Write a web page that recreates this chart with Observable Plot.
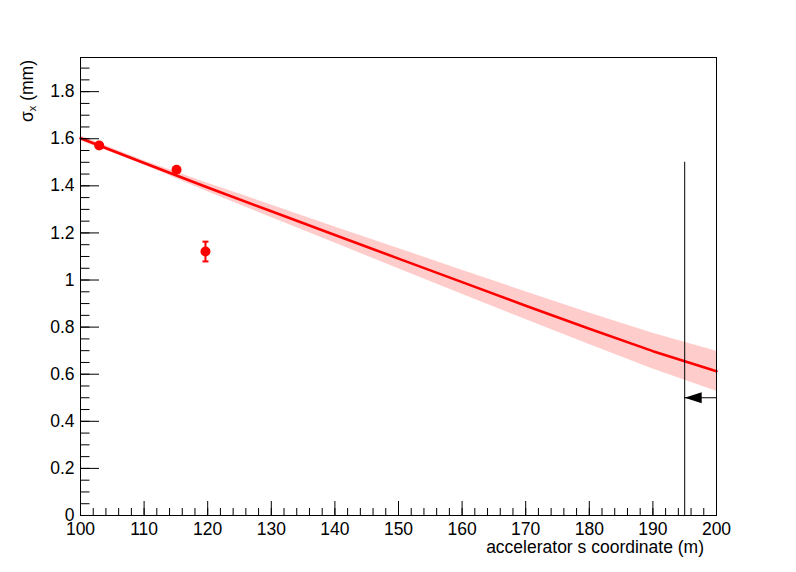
<!DOCTYPE html>
<html><head><meta charset="utf-8">
<script src="https://cdn.jsdelivr.net/npm/d3@7"></script>
<script src="https://cdn.jsdelivr.net/npm/@observablehq/plot@0.6"></script>
<style>html,body{margin:0;padding:0;background:#fff}svg{display:block}</style>
</head><body><div id="chart"></div>
<script>
// Measured points
const pointS = [102.94, 115.1, 119.65];
const pointSigma = [1.571, 1.468, 1.121];
const pointErr = [0.008, 0.008, 0.042];
// Fit curve and its confidence band (half-width)
const fitS = [100, 110, 120, 130, 140, 150, 160, 170, 180, 190, 200];
const fitSigma = [1.602, 1.497, 1.393, 1.292, 1.191, 1.091, 0.991, 0.891, 0.793, 0.698, 0.613];
const bandHalf = [0.011, 0.009, 0.018, 0.027, 0.034, 0.043, 0.051, 0.059, 0.067, 0.076, 0.085];
// Marker line + arrow
const markerS = [195];
const markerTop = [1.5];
const arrowSigma = [0.5];
const arrowEnd = [200];
// Axes
const xTicks = [100, 110, 120, 130, 140, 150, 160, 170, 180, 190, 200];
const xTickLabels = ["100", "110", "120", "130", "140", "150", "160", "170", "180", "190", "200"];
const yTicks = [0, 0.2, 0.4, 0.6, 0.8, 1.0, 1.2, 1.4, 1.6, 1.8];
const yTickLabels = ["0", "0.2", "0.4", "0.6", "0.8", "1", "1.2", "1.4", "1.6", "1.8"];
const xMinor = d3.range(100, 200.001, 2);
const yMinor = d3.range(0, 1.94, 0.05);
const xTitle = "accelerator s coordinate (m)";
const yTitleMain = "σ";
const yTitleSub = "x";
const yTitleUnit = " (mm)";

const W = 796, H = 572, mL = 80, mR = 80, mT = 57, mB = 57;
const innerW = W - mL - mR, innerH = H - mT - mB;

const points = pointS.map((s, i) => ({s, v: pointSigma[i], e: pointErr[i]}));
const fit = fitS.map((s, i) => ({s, v: fitSigma[i], h: bandHalf[i]}));
const marker = markerS.map((s, i) => ({s, top: markerTop[i], ay: arrowSigma[i], end: arrowEnd[i]}));

const capSymbol = {draw(ctx, size) { const r = Math.sqrt(size / Math.PI); ctx.moveTo(-r, 0); ctx.lineTo(r, 0); }};
const headShape = {draw(ctx, l, r) { ctx.moveTo(0, -l); ctx.lineTo(-r, 0); ctx.lineTo(r, 0); ctx.closePath(); }};

const font = "'Liberation Sans', Arial, Helvetica, sans-serif";
const fs = 17.5;

const chart = Plot.plot({
  width: W, height: H,
  marginLeft: mL, marginRight: mR, marginTop: mT, marginBottom: mB,
  x: {domain: [100, 200]},
  y: {domain: [0, 1.945]},
  style: {fontFamily: font, fontSize: fs + "px", background: "white", color: "black"},
  marks: [
    Plot.areaY(fit, {x: "s", y1: d => d.v - d.h, y2: d => d.v + d.h, fill: "#ffcccc"}),
    Plot.line(fit, {x: "s", y: "v", stroke: "#ff0000", strokeWidth: 2.6}),
    Plot.ruleX(points, {x: "s", y1: d => d.v - d.e, y2: d => d.v + d.e, stroke: "#ff0000", strokeWidth: 2}),
    Plot.dot(points, {x: "s", y: d => d.v - d.e, symbol: capSymbol, r: 3, stroke: "#ff0000", strokeWidth: 2}),
    Plot.dot(points, {x: "s", y: d => d.v + d.e, symbol: capSymbol, r: 3, stroke: "#ff0000", strokeWidth: 2}),
    Plot.dot(points, {x: "s", y: "v", r: 5, fill: "#ff0000", stroke: "none"}),
    Plot.ruleX(marker, {x: "s", y1: 0, y2: "top", stroke: "black", strokeWidth: 1}),
    Plot.ruleY(marker, {y: "ay", x1: "s", x2: "end", stroke: "black", strokeWidth: 1}),
    Plot.vector(marker, {x: "s", y: "ay", rotate: -90, length: 17, r: 5.5, anchor: "end", shape: headShape, fill: "black", stroke: "none"}),
    Plot.tickX(xTicks, {x: d => d, insetTop: innerH - 14, stroke: "black"}),
    Plot.tickX(xMinor, {x: d => d, insetTop: innerH - 7, stroke: "black"}),
    Plot.tickY(yTicks, {y: d => d, insetRight: innerW - 19, stroke: "black"}),
    Plot.tickY(yMinor, {y: d => d, insetRight: innerW - 9.5, stroke: "black"}),
    Plot.axisX(xTicks, {tickSize: 0, tickPadding: 7.5, fontSize: fs, tickFormat: (d) => xTickLabels[xTicks.indexOf(d)], label: null}),
    Plot.axisY(yTicks, {tickSize: 0, tickPadding: 6, fontSize: fs, tickFormat: (d) => yTickLabels[yTicks.indexOf(d)], label: null}),
    Plot.frame({stroke: "black", strokeWidth: 1})
  ]
});

const svg = d3.select(chart);
svg.append("text")
  .attr("x", 704).attr("y", 553)
  .attr("text-anchor", "end")
  .attr("font-family", font).attr("font-size", fs).attr("fill", "black")
  .text(xTitle);
const yt = svg.append("text")
  .attr("transform", "translate(33,60) rotate(-90)")
  .attr("text-anchor", "end")
  .attr("font-family", font).attr("font-size", fs).attr("fill", "black");
yt.append("tspan").text(yTitleMain);
yt.append("tspan").attr("font-size", 11).attr("dy", 3).text(yTitleSub);
yt.append("tspan").attr("dy", -3).text(yTitleUnit);

document.getElementById("chart").appendChild(chart);
</script>
</body></html>
